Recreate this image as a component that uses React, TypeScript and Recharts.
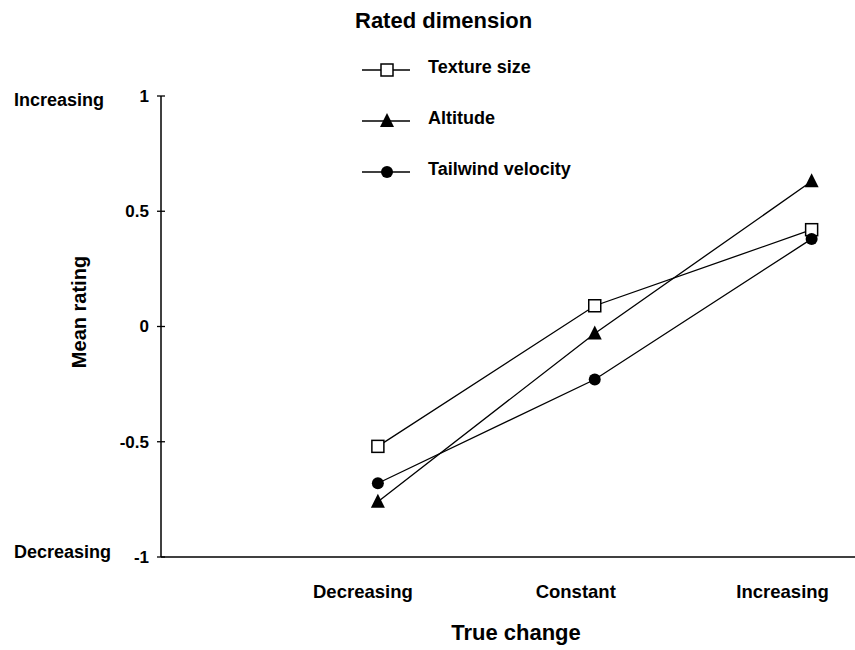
import { LineChart, Line, XAxis, YAxis, Legend } from "recharts";

// values
const categories = ["Decreasing", "Constant", "Increasing"];
const textureSize = [-0.52, 0.09, 0.42];
const altitude = [-0.76, -0.03, 0.63];
const tailwindVelocity = [-0.68, -0.23, 0.38];
const yTicks = [-1, -0.5, 0, 0.5, 1];
const yEndLabels: Record<string, string> = { "1": "Increasing", "-1": "Decreasing" };

const data = categories.map((name, i) => ({
  pos: i + 1,
  name,
  texture: textureSize[i],
  altitude: altitude[i],
  tailwind: tailwindVelocity[i],
}));

const FONT = "Arial, 'Liberation Sans', Helvetica, sans-serif";

// markers
const SquareDot = (props: any) => {
  const { cx, cy } = props;
  if (cx == null || cy == null) return null;
  return <rect x={cx - 6} y={cy - 6} width={12} height={12} fill="#fff" stroke="#000" strokeWidth={1.5} />;
};
const TriangleDot = (props: any) => {
  const { cx, cy } = props;
  if (cx == null || cy == null) return null;
  return <polygon points={`${cx},${cy - 8} ${cx + 7},${cy + 6} ${cx - 7},${cy + 6}`} fill="#000" />;
};
const CircleDot = (props: any) => {
  const { cx, cy } = props;
  if (cx == null || cy == null) return null;
  return <circle cx={cx} cy={cy} r={6} fill="#000" />;
};

const legendItems = [
  { label: "Texture size", Dot: SquareDot },
  { label: "Altitude", Dot: TriangleDot },
  { label: "Tailwind velocity", Dot: CircleDot },
];

const LegendBox = () => (
  <svg width={300} height={190} style={{ fontFamily: FONT, fontWeight: "bold" }}>
    <text x={25} y={28} fontSize={22}>Rated dimension</text>
    {legendItems.map((it, i) => {
      const y = 70 + i * 51;
      return (
        <g key={it.label}>
          <line x1={32} x2={80} y1={y} y2={y} stroke="#000" strokeWidth={1.3} />
          <it.Dot cx={57} cy={y} />
          <text x={98} y={y - 3} fontSize={18} dy="0.35em">{it.label}</text>
        </g>
      );
    })}
  </svg>
);

const YTick = (props: any) => {
  const { x, y, payload } = props;
  const end = yEndLabels[String(payload.value)];
  return (
    <g>
      <line x1={x + 8} x2={x + 16} y1={y} y2={y} stroke="#000" strokeWidth={1.3} />
      <text x={x} y={y} dy="0.35em" textAnchor="end" fontSize={17} fontWeight="bold" fontFamily={FONT}>
        {payload.value}
      </text>
      {end && (
        <text x={14} y={y + (payload.value > 0 ? 4 : -5)} dy="0.35em" fontSize={18} fontWeight="bold" fontFamily={FONT}>
          {end}
        </text>
      )}
    </g>
  );
};

// labels in the original sit a little left of their points
const xLabelShift = [-15, -19, -29];

const XTick = (props: any) => {
  const { x, y, payload } = props;
  const i = payload.value - 1;
  return (
    <text x={x + (xLabelShift[i] ?? -20)} y={y} dy="0.71em" textAnchor="middle" fontSize={18.5} fontWeight="bold" fontFamily={FONT}>
      {categories[i]}
    </text>
  );
};

const XTitle = () => (
  <text x={516} y={640} textAnchor="middle" fontSize={22} fontWeight="bold" fontFamily={FONT}>
    True change
  </text>
);

const YTitle = () => (
  <text x={86} y={312} transform="rotate(-90 86 312)" textAnchor="middle" fontSize={20} fontWeight="bold" fontFamily={FONT}>
    Mean rating
  </text>
);

export default function App() {
  return (
    <div style={{ position: "absolute", left: 0, top: 0, background: "#fff" }}>
      <LineChart width={855} height={650} data={data} margin={{ top: 96, right: 0, bottom: 0, left: 0 }}>
        <XAxis
          type="number"
          dataKey="pos"
          domain={[0, 3.2]}
          ticks={[1, 2, 3]}
          allowDataOverflow
          height={93}
          axisLine={{ stroke: "#000", strokeWidth: 1.5 }}
          tickLine={false}
          tickSize={0}
          tickMargin={28}
          tick={<XTick />}
          label={<XTitle />}
        />
        <YAxis
          type="number"
          domain={[-1, 1]}
          ticks={yTicks}
          width={161}
          axisLine={{ stroke: "#000", strokeWidth: 1.5 }}
          tickLine={false}
          tickSize={0}
          tickMargin={12}
          tick={<YTick />}
          label={<YTitle />}
        />
        <Legend
          layout="horizontal"
          verticalAlign="middle"
          align="center"
          content={<LegendBox />}
          wrapperStyle={{ position: "absolute", left: 330, top: 0, width: 300 }}
        />
        <Line dataKey="texture" name="Texture size" stroke="#000" strokeWidth={1.3} dot={<SquareDot />} activeDot={false} isAnimationActive={false} />
        <Line dataKey="altitude" name="Altitude" stroke="#000" strokeWidth={1.3} dot={<TriangleDot />} activeDot={false} isAnimationActive={false} />
        <Line dataKey="tailwind" name="Tailwind velocity" stroke="#000" strokeWidth={1.3} dot={<CircleDot />} activeDot={false} isAnimationActive={false} />
      </LineChart>
    </div>
  );
}
